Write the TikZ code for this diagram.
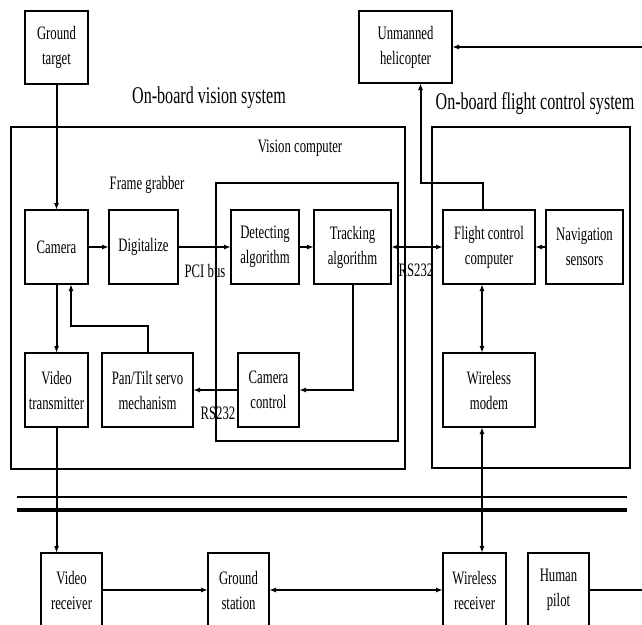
\documentclass[tikz,border=0pt]{standalone}
\usepackage{fontspec}
\setmainfont{Liberation Serif}[FakeStretch=0.67]
\usetikzlibrary{arrows.meta,positioning}

\begin{document}
\begin{tikzpicture}[
  x=1pt,y=-1pt,
  block/.style={draw,line width=2pt,minimum height=74pt,inner sep=0pt,outer sep=0pt,
    align=center,font=\fontsize{19}{25}\selectfont},
  note/.style={inner sep=0pt,font=\fontsize{19}{23}\selectfont},
  heading/.style={inner sep=0pt,font=\fontsize{24}{28}\selectfont},
  sysframe/.style={draw,line width=1.6pt},
  arrow/.style={-{Latex[length=7pt,width=5pt]},line width=2pt},
  twoway/.style={{Latex[length=7pt,width=5pt]}-{Latex[length=7pt,width=5pt]},line width=2pt}
]
\useasboundingbox (0,0) rectangle (642,624);
% system frames
\draw[sysframe] (11,127) rectangle (405,469);
\draw[sysframe] (432,127) rectangle (630,468);
\draw[sysframe] (216,183) rectangle (398,441);
\node[heading] (visiontitle) at (209,98) {On-board vision system};
\node[heading] (flighttitle) at (535,104) {On-board flight control system};
\node[note] (vcomp) at (300,148) {Vision computer};
\node[note] (fgrab) at (147,185) {Frame grabber};
% outside
\node[block,minimum width=63pt,minimum height=73pt] (target) at (56.5,47.5) {Ground\\target};
\node[block,minimum width=93pt,minimum height=72pt] (heli) at (405.5,47) {Unmanned\\helicopter};
% upper row
\node[block,minimum width=63pt] (camera) at (56.5,247) {Camera};
\node[block,minimum width=69pt,right=21pt of camera] (digit) {Digitalize};
\node[block,minimum width=68pt,right=53pt of digit] (detect) {Detecting\\algorithm};
\node[block,minimum width=77pt,right=15pt of detect] (track) {Tracking\\algorithm};
\node[block,minimum width=92pt,right=52pt of track] (fcc) {Flight control\\computer};
\node[block,minimum width=77pt,right=11pt of fcc] (nav) {Navigation\\sensors};
% lower row
\node[block,minimum width=63pt,below=69pt of camera] (vtx) {Video\\transmitter};
\node[block,minimum width=91pt,right=14pt of vtx] (pantilt) {Pan/Tilt servo\\mechanism};
\node[block,minimum width=61pt,right=45pt of pantilt] (camctl) {Camera\\control};
\node[block,minimum width=92pt,below=69pt of fcc] (modem) {Wireless\\modem};
% ground side
\node[block,minimum width=61pt] (vrx) at (71.5,590) {Video\\receiver};
\node[block,minimum width=61pt,right=106pt of vrx] (ground) {Ground\\station};
\node[block,minimum width=63pt,right=174pt of ground] (wrx) {Wireless\\receiver};
\node[block,minimum width=61pt,right=22pt of wrx] (pilot) {Human\\pilot};
\node[note] (pcibus) at (205,271) {PCI bus};
\node[note] (rsup) at (416,270) {RS232};
\node[note] (rsdown) at (218,413) {RS232};
% wireless link
\draw[line width=1.6pt] (17,497) -- (627,497);
\draw[line width=3.6pt] (17,510) -- (627,510);
% connectors
\draw[arrow] (target) -- (camera);
\draw[arrow] (camera) -- (digit);
\draw[arrow] (digit) -- (detect);
\draw[arrow] (detect) -- (track);
\draw[twoway] (track) -- (fcc);
\draw[arrow] (nav) -- (fcc);
\draw[arrow] ([xshift=-6pt]fcc.north) -- ++(0,-27) -| ([xshift=15pt]heli.south);
\draw[twoway] ([xshift=-7pt]fcc.south) -- ([xshift=-7pt]modem.north);
\draw[twoway] ([xshift=-7pt]modem.south) -- ([xshift=7.5pt]wrx.north);
\draw[arrow] (camera) -- (vtx);
\draw[arrow] (pantilt.north) -- ++(0,-27) -| ([xshift=14.5pt]camera.south);
\draw[arrow] (track.south) |- (camctl.east);
\draw[arrow] (camctl) -- (pantilt);
\draw[arrow] (vtx.south) -- (vtx.south |- vrx.north);
\draw[arrow] (vrx) -- (ground);
\draw[twoway] (ground) -- (wrx);
\draw[arrow] (pilot.east) -- ++(90,0) |- (heli.east);
\end{tikzpicture}
\end{document}
